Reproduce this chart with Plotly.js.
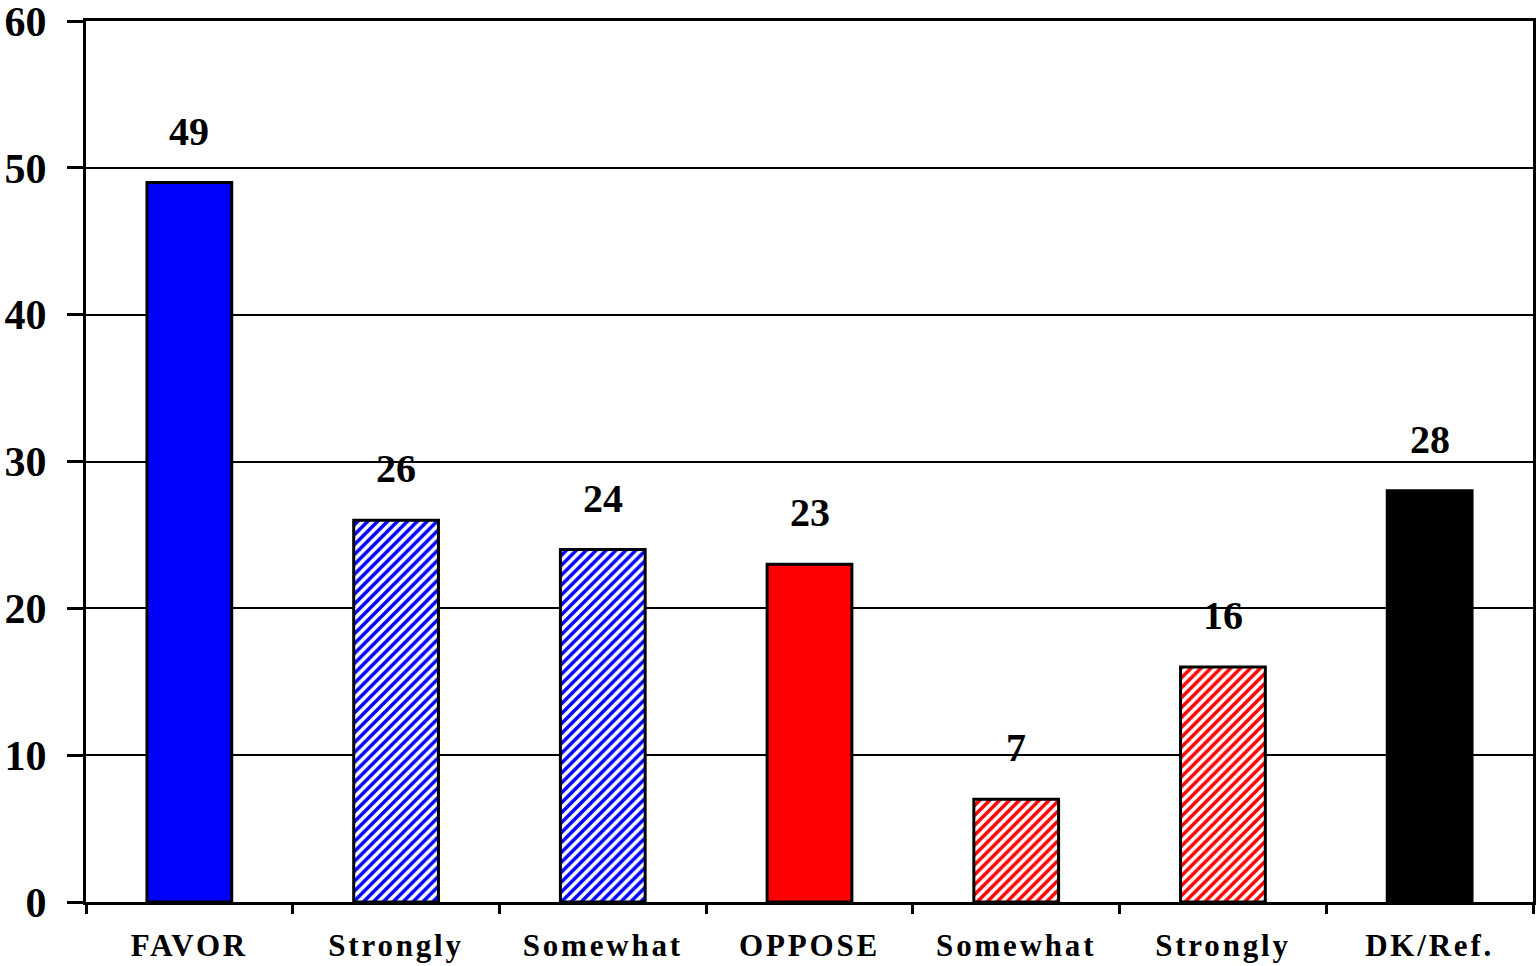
<!DOCTYPE html>
<html>
<head>
<meta charset="utf-8">
<script src="https://cdn.plot.ly/plotly-3.0.1.min.js"></script>
<style>
html,body{margin:0;padding:0;background:#fff;}
#chart{width:1537px;height:966px;}
.xtick text{letter-spacing:2.8px;}
</style>
</head>
<body>
<div id="chart"></div>
<script>
const categories = ["FAVOR", "Strongly", "Somewhat", "OPPOSE", "Somewhat", "Strongly", "DK/Ref."];
const values = [49, 26, 24, 23, 7, 16, 28];
const yTicks = [0, 10, 20, 30, 40, 50, 60];
const barColors = ["#0000FF", "#0000FF", "#0000FF", "#FF0000", "#FF0000", "#FF0000", "#000000"];
const hatched = [false, true, true, false, true, true, false];

const xs = categories.map((c, i) => i);
const font = "Liberation Serif, Times New Roman, serif";

const traces = values.map((v, i) => {
  const marker = {line: {color: "#000000", width: 3}};
  if (hatched[i]) {
    marker.color = "#FFFFFF";
    marker.pattern = {shape: "/", fgcolor: barColors[i], fgopacity: 1, bgcolor: "#FFFFFF", size: 7, solidity: 0.5, fillmode: "overlay"};
  } else {
    marker.color = barColors[i];
  }
  return {type: "bar", x: [xs[i]], y: [v], width: 0.41, marker: marker, hoverinfo: "none"};
});

const annotations = values.map((v, i) => ({
  x: i, y: v, xref: "x", yref: "y",
  text: "<b>" + v + "</b>",
  showarrow: false, yanchor: "bottom", yshift: 27,
  font: {family: font, size: 40, color: "#000"}
}));

const layout = {
  width: 1537, height: 966,
  margin: {l: 86, r: 4, t: 21, b: 64},
  paper_bgcolor: "#fff", plot_bgcolor: "#fff",
  showlegend: false,
  barmode: "overlay",
  xaxis: {
    range: [-0.5, categories.length - 0.5],
    tickmode: "array",
    tickvals: xs,
    ticktext: categories.map(c => "<b>" + c + "</b>"),
    ticks: "outside", ticklen: 0, tickcolor: "#000",
    minor: {tick0: -0.5, dtick: 1, ticks: "outside", ticklen: 9, tickwidth: 3, tickcolor: "#000", showgrid: false},
    showline: true, linecolor: "#000", linewidth: 3, mirror: true,
    showgrid: false, zeroline: false,
    ticklabelstandoff: 14,
    ticklabeloverflow: "allow",
    tickfont: {family: font, size: 31, color: "#000"}
  },
  yaxis: {
    range: [0, 60],
    tickmode: "array",
    tickvals: yTicks,
    ticktext: yTicks.map(t => "<b>" + t + "</b>"),
    ticks: "outside", ticklen: 16, tickwidth: 3, tickcolor: "#000",
    showline: true, linecolor: "#000", linewidth: 3, mirror: true,
    showgrid: true, gridcolor: "#000", gridwidth: 2,
    zeroline: false,
    ticklabelstandoff: 12,
    ticklabeloverflow: "allow",
    tickfont: {family: font, size: 42, color: "#000"}
  },
  annotations: annotations
};

Plotly.newPlot("chart", traces, layout, {displayModeBar: false, staticPlot: true});
</script>
</body>
</html>
